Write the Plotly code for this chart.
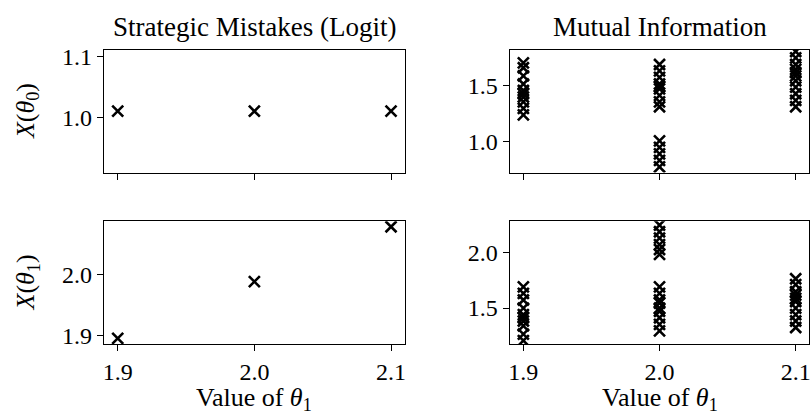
import plotly.graph_objects as go

# ---------------- data ----------------
theta1_values = [1.9, 2.0, 2.1]
x_tick_labels = ["1.9", "2.0", "2.1"]

# Strategic Mistakes (Logit)
logit_x0 = [1.011, 1.011, 1.011]
logit_x1 = [1.896, 1.988, 2.077]

# Mutual Information: X(theta0)
mi_x0_19 = [1.705, 1.661, 1.588, 1.515, 1.456, 1.427, 1.398, 1.354, 1.296, 1.237]
mi_x0_20 = [1.690, 1.632, 1.574, 1.515, 1.491, 1.471, 1.412, 1.354, 1.310,
            1.003, 0.945, 0.886, 0.828, 0.769]
mi_x0_21 = [1.807, 1.749, 1.690, 1.646, 1.617, 1.588, 1.544, 1.486, 1.427, 1.368, 1.310]

# Mutual Information: X(theta1)
mi_x1_19 = [1.691, 1.632, 1.573, 1.500, 1.441, 1.412, 1.383, 1.339, 1.265, 1.206]
mi_x1_20 = [2.250, 2.190, 2.132, 2.073, 2.029, 1.985,
            1.691, 1.632, 1.573, 1.544, 1.500, 1.471, 1.412, 1.353, 1.294]
mi_x1_21 = [1.765, 1.712, 1.647, 1.617, 1.588, 1.559, 1.500, 1.441, 1.383, 1.324]

# ---------------- figure ----------------
W, H = 812, 419
FONT = "Liberation Serif"
FS_TICK = 24
FS_LABEL = 26
FS_TITLE = 27

fig = go.Figure()

marker = dict(symbol="x-thin", size=11, color="black", line=dict(color="black", width=2.6))


def add(xs, ys, xa, ya):
    fig.add_trace(go.Scatter(x=xs, y=ys, mode="markers", marker=marker, cliponaxis=True,
                             xaxis=xa, yaxis=ya, showlegend=False, hoverinfo="x+y"))


add(theta1_values, logit_x0, "x", "y")
add([1.9] * len(mi_x0_19) + [2.0] * len(mi_x0_20) + [2.1] * len(mi_x0_21),
    mi_x0_19 + mi_x0_20 + mi_x0_21, "x2", "y2")
add(theta1_values, logit_x1, "x3", "y3")
add([1.9] * len(mi_x1_19) + [2.0] * len(mi_x1_20) + [2.1] * len(mi_x1_21),
    mi_x1_19 + mi_x1_20 + mi_x1_21, "x4", "y4")


def px_x(p):
    return p / W


def px_y(p):
    return 1 - p / H


left_dom = [px_x(103.3), px_x(404.7)]
right_dom = [px_x(510), px_x(810.3)]
top_dom = [px_y(171), px_y(45)]
bot_dom = [px_y(347), px_y(221)]

common_axis = dict(showgrid=False, zeroline=False, showline=True, linecolor="black",
                   linewidth=1.4, mirror=True, ticks="outside", ticklen=6, tickwidth=1.4,
                   tickcolor="black", tickfont=dict(family=FONT, size=FS_TICK, color="black"))

xr = [1.89, 2.11]
xaxis_common = dict(common_axis, range=xr, tickmode="array", tickvals=theta1_values,
                    ticktext=x_tick_labels)

fig.update_layout(
    width=W, height=H,
    margin=dict(l=0, r=0, t=0, b=0),
    paper_bgcolor="white", plot_bgcolor="white",
    font=dict(family=FONT, size=FS_TICK, color="black"),
    xaxis=dict(xaxis_common, domain=left_dom, anchor="y", showticklabels=False),
    yaxis=dict(common_axis, domain=top_dom, anchor="x", range=[0.911, 1.111],
               tickvals=[1.0, 1.1], ticktext=["1.0", "1.1"]),
    xaxis2=dict(xaxis_common, domain=right_dom, anchor="y2", showticklabels=False),
    yaxis2=dict(common_axis, domain=top_dom, anchor="x2", range=[0.719, 1.822],
                tickvals=[1.0, 1.5], ticktext=["1.0", "1.5"]),
    xaxis3=dict(xaxis_common, domain=left_dom, anchor="y3"),
    yaxis3=dict(common_axis, domain=bot_dom, anchor="x3", range=[1.887, 2.086],
                tickvals=[1.9, 2.0], ticktext=["1.9", "2.0"]),
    xaxis4=dict(xaxis_common, domain=right_dom, anchor="y4"),
    yaxis4=dict(common_axis, domain=bot_dom, anchor="x4", range=[1.176, 2.285],
                tickvals=[1.5, 2.0], ticktext=["1.5", "2.0"]),
)

annotations = [
    dict(text="Strategic Mistakes (Logit)", x=(left_dom[0] + left_dom[1]) / 2, y=px_y(22),
         size=FS_TITLE),
    dict(text="Mutual Information", x=(right_dom[0] + right_dom[1]) / 2, y=px_y(22),
         size=FS_TITLE),
    dict(text="Value of <i>θ</i><sub>1</sub>", x=(left_dom[0] + left_dom[1]) / 2, y=px_y(404)),
    dict(text="Value of <i>θ</i><sub>1</sub>", x=(right_dom[0] + right_dom[1]) / 2, y=px_y(404)),
    dict(text="<i>X</i>(<i>θ</i><sub>0</sub>)", x=px_x(26), y=px_y(108), textangle=-90),
    dict(text="<i>X</i>(<i>θ</i><sub>1</sub>)", x=px_x(26), y=px_y(284), textangle=-90),
]
for a in annotations:
    size = a.pop("size", FS_LABEL)
    a.update(xref="paper", yref="paper", showarrow=False,
             font=dict(family=FONT, size=size, color="black"),
             xanchor="center", yanchor="middle")
fig.update_layout(annotations=annotations)

fig.write_html("out.html",
               config={"displayModeBar": False},
               post_script="document.body.style.margin='0px';document.body.style.padding='0px';"
                           "document.body.style.overflow='hidden';")
